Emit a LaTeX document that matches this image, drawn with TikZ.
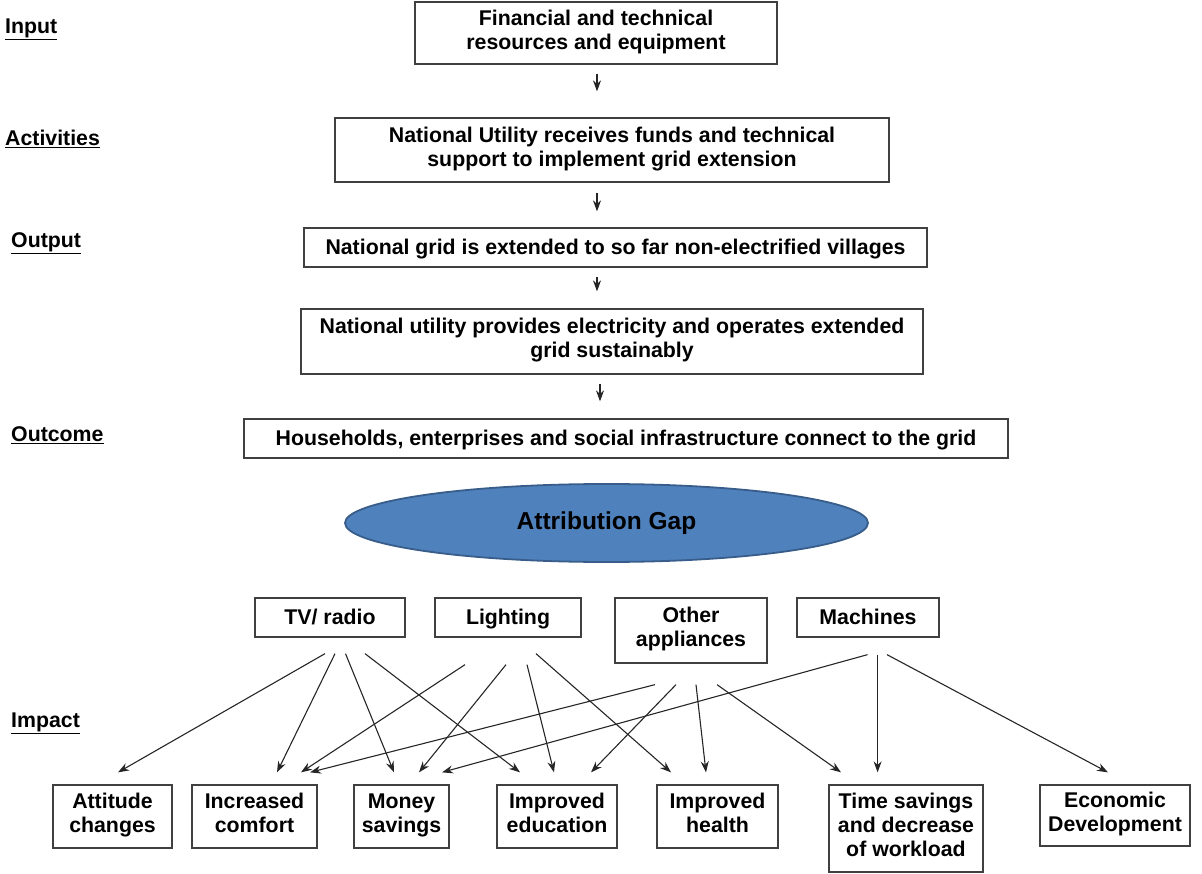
\documentclass[tikz,border=0pt]{standalone}
\usepackage{fontspec}
\setmainfont{Liberation Sans}
\usetikzlibrary{arrows.meta,calc,shapes.geometric}
\definecolor{gapfill}{HTML}{4F81BD}
\definecolor{gapline}{HTML}{385D8A}
\definecolor{boxline}{HTML}{404040}
\begin{document}
\begin{tikzpicture}[x=1pt,y=-1pt,
  every node/.style={font=\fontsize{21.3}{24}\selectfont\bfseries},
  box/.style={draw=boxline,line width=1.3pt,rectangle,align=center,inner sep=0pt,
    execute at begin node={\rule{0pt}{20.8pt}},execute at end node={\strut}},
  lbl/.style={anchor=west,inner sep=0pt},
  arr/.style={draw=black!85,line width=1.1pt,-{Stealth[length=11pt,width=8pt]}}]
\useasboundingbox (0,0) rectangle (1202,874);
% left labels
\node[lbl] (lin) at (5,29) {\underline{Input}};
\node[lbl] (lact) at (5,139) {\underline{Activities}};
\node[lbl] (lout) at (11,243) {\underline{Output}};
\node[lbl] (loutc) at (11,435) {\underline{Outcome}};
\node[lbl] (limp) at (11,723) {\underline{Impact}};
% chain
\node[box,minimum width=362,minimum height=62] (in) at (596,33) {Financial and technical\\resources and equipment};
\node[box,minimum width=554,minimum height=64] (act) at (612,150) {National Utility receives funds and technical\\support to implement grid extension};
\node[box,minimum width=623,minimum height=39] (out) at (615.5,247.5) {National grid is extended to so far non-electrified villages};
\node[box,minimum width=622,minimum height=65] (prov) at (612,341.5) {National utility provides electricity and operates extended\\grid sustainably};
\node[box,minimum width=764,minimum height=39] (outc) at (626,438.5) {Households, enterprises and social infrastructure connect to the grid};
\node[ellipse,draw=gapline,fill=gapfill,line width=1.8pt,minimum width=523,minimum height=78,inner sep=0pt,font=\fontsize{24.5}{28}\selectfont\bfseries] (gap) at (606.5,523) {Attribution Gap};
% chain arrows
\draw[arr] ($(in.south)+(1,9)$) -- ($(act.north)+(-15,-26)$);
\draw[arr] ($(act.south)+(-15,10)$) -- ($(out.north)+(-18.5,-16)$);
\draw[arr] ($(out.south)+(-18.5,9)$) -- ($(prov.north)+(-15,-17)$);
\draw[arr] ($(prov.south)+(-12,9)$) -- ($(outc.north)+(-26,-17)$);
% uses
\node[box,minimum width=150,minimum height=39] (tv) at (330,617.5) {TV/ radio};
\node[box,minimum width=146,minimum height=39] (light) at (508,617.5) {Lighting};
\node[box,minimum width=152,minimum height=65] (other) at (691,630.5) {Other\\appliances};
\node[box,minimum width=142,minimum height=39] (mach) at (868,617.5) {Machines};
% impacts
\node[box,minimum width=119,minimum height=63] (att) at (112.5,816.5) {Attitude\\changes};
\node[box,minimum width=125,minimum height=63] (comf) at (254.5,816.5) {Increased\\comfort};
\node[box,minimum width=95,minimum height=63] (money) at (401.5,816.5) {Money\\savings};
\node[box,minimum width=120,minimum height=63] (edu) at (557,816.5) {Improved\\education};
\node[box,minimum width=121,minimum height=63] (health) at (717.5,816.5) {Improved\\health};
\node[box,minimum width=154,minimum height=87] (time) at (906,828.5) {Time savings\\and decrease\\of workload};
\node[box,minimum width=150,minimum height=61] (econ) at (1115,815.5) {Economic\\Development};
% TV
\draw[arr] ($(tv.south)+(-5,16)$) -- ($(att.north)+(5.5,-12)$);
\draw[arr] ($(tv.south)+(5,16)$) -- ($(comf.north)+(22.5,-12)$);
\draw[arr] ($(tv.south)+(15.5,16)$) -- ($(money.north)+(-7.5,-12)$);
\draw[arr] ($(tv.south)+(35,16)$) -- ($(edu.north)+(-37,-12)$);
% Lighting
\draw[arr] ($(light.south)+(-43,27)$) -- ($(comf.north)+(46.5,-12)$);
\draw[arr] ($(light.south)+(-2,27)$) -- ($(money.north)+(17.5,-12)$);
\draw[arr] ($(light.south)+(19,27)$) -- ($(edu.north)+(-3,-12)$);
\draw[arr] ($(light.south)+(28,16)$) -- ($(health.north)+(-46.5,-12)$);
% Other appliances
\draw[arr] ($(other.south)+(-36,21)$) -- ($(comf.north)+(55.5,-12)$);
\draw[arr] ($(other.south)+(-15,21)$) -- ($(edu.north)+(34,-12)$);
\draw[arr] ($(other.south)+(5,21)$) -- ($(health.north)+(-11.5,-12)$);
\draw[arr] ($(other.south)+(26,21)$) -- ($(time.north)+(-65,-12)$);
% Machines
\draw[arr] ($(mach.south)+(-0.5,17)$) -- ($(money.north)+(40.5,-12)$);
\draw[arr] ($(mach.south)+(9.6,17)$) -- ($(time.north)+(-28.4,-12)$);
\draw[arr] ($(mach.south)+(19,17)$) -- ($(econ.north)+(-7,-12)$);
\end{tikzpicture}
\end{document}
